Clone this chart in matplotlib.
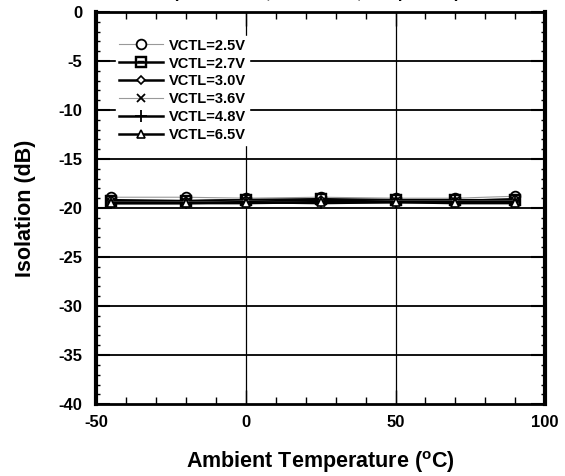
import matplotlib
matplotlib.use("Agg")
import matplotlib.pyplot as plt
from matplotlib.ticker import MultipleLocator

plt.rcParams['font.family'] = ['Liberation Sans', 'DejaVu Sans']
plt.rcParams['font.weight'] = 'bold'
plt.rcParams['axes.unicode_minus'] = False

temps = [-45, -20, 0, 25, 50, 70, 90]
labels = ["VCTL=2.5V", "VCTL=2.7V", "VCTL=3.0V", "VCTL=3.6V", "VCTL=4.8V", "VCTL=6.5V"]
iso_25 = [-18.9, -18.9, -19.0, -18.9, -19.0, -19.0, -18.8]
iso_27 = [-19.3, -19.3, -19.2, -19.1, -19.2, -19.2, -19.2]
iso_30 = [-19.2, -19.3, -19.2, -19.2, -19.3, -19.3, -19.1]
iso_36 = [-19.4, -19.4, -19.3, -19.4, -19.3, -19.3, -19.3]
iso_48 = [-19.5, -19.5, -19.4, -19.5, -19.4, -19.4, -19.4]
iso_65 = [-19.5, -19.5, -19.5, -19.4, -19.4, -19.5, -19.5]
series = [iso_25, iso_27, iso_30, iso_36, iso_48, iso_65]

styles = [
    dict(color='#999999', lw=0.8, marker='o', ms=7, mfc='white', mec='black', mew=1.3),
    dict(color='black', lw=1.8, marker='$\u229F$', ms=8, mfc='black', mec='black', mew=0.3),
    dict(color='black', lw=1.8, marker='D', ms=4.5, mfc='white', mec='black', mew=1.2),
    dict(color='#999999', lw=0.8, marker='x', ms=6, mfc='none', mec='black', mew=1.3),
    dict(color='black', lw=1.8, marker='+', ms=8, mfc='none', mec='black', mew=1.3),
    dict(color='black', lw=1.8, marker='^', ms=6, mfc='white', mec='black', mew=1.2),
]

fig = plt.figure(figsize=(5.65, 4.76), dpi=100)
ax = fig.add_axes([0.170, 0.151, 0.795, 0.824])

for lab, vals, st in zip(labels, series, styles):
    ax.plot(temps, vals, label=lab, **st)

ax.set_xlim(-50, 100)
ax.set_ylim(-40, 0)
ax.xaxis.set_major_locator(MultipleLocator(50))
ax.xaxis.set_minor_locator(MultipleLocator(10))
ax.yaxis.set_major_locator(MultipleLocator(5))
ax.yaxis.set_minor_locator(MultipleLocator(1))

for y in range(-35, 0, 5):
    ax.axhline(y, color='black', lw=1.3, zorder=0.5)
for x in [0, 50]:
    ax.axvline(x, color='black', lw=0.9, zorder=0.5)

ax.tick_params(axis='both', which='both', direction='in', top=True, right=True,
               labelsize=12)
ax.tick_params(axis='x', which='both', pad=8)
ax.tick_params(axis='y', which='both', pad=10)
ax.tick_params(axis='y', which='major', length=10, width=1.5)
ax.tick_params(axis='y', which='minor', length=3, width=1.0)
ax.tick_params(axis='x', which='major', length=10, width=1.0)
ax.tick_params(axis='x', which='minor', length=5, width=1.0)
for lbl in ax.get_xticklabels() + ax.get_yticklabels():
    lbl.set_fontweight('bold')

for side in ['left', 'right']:
    ax.spines[side].set_linewidth(3)
for side in ['top', 'bottom']:
    ax.spines[side].set_linewidth(2)

ax.set_xlabel('Ambient Temperature ($\\mathregular{^{o}}$C)', fontsize=15.5, fontweight='bold', labelpad=14)
ax.set_ylabel('Isolation (dB)', fontsize=15.5, fontweight='bold', labelpad=16)

leg = ax.legend(loc='upper left', bbox_to_anchor=(0.028, 0.958), frameon=True, fancybox=False,
                edgecolor='white', facecolor='white', framealpha=1.0,
                prop={'weight': 'bold', 'size': 10.5}, handlelength=3.0,
                labelspacing=0.27, handletextpad=0.45, borderpad=0.2)

fig.text(0.56, 1.0 + 2.0 / 476, '(RF1 to RF2, Pin=0dBm, Freq=2GHz)', ha='center', va='baseline',
         fontsize=12, fontweight='bold')

fig.savefig('out.png', dpi=100)
